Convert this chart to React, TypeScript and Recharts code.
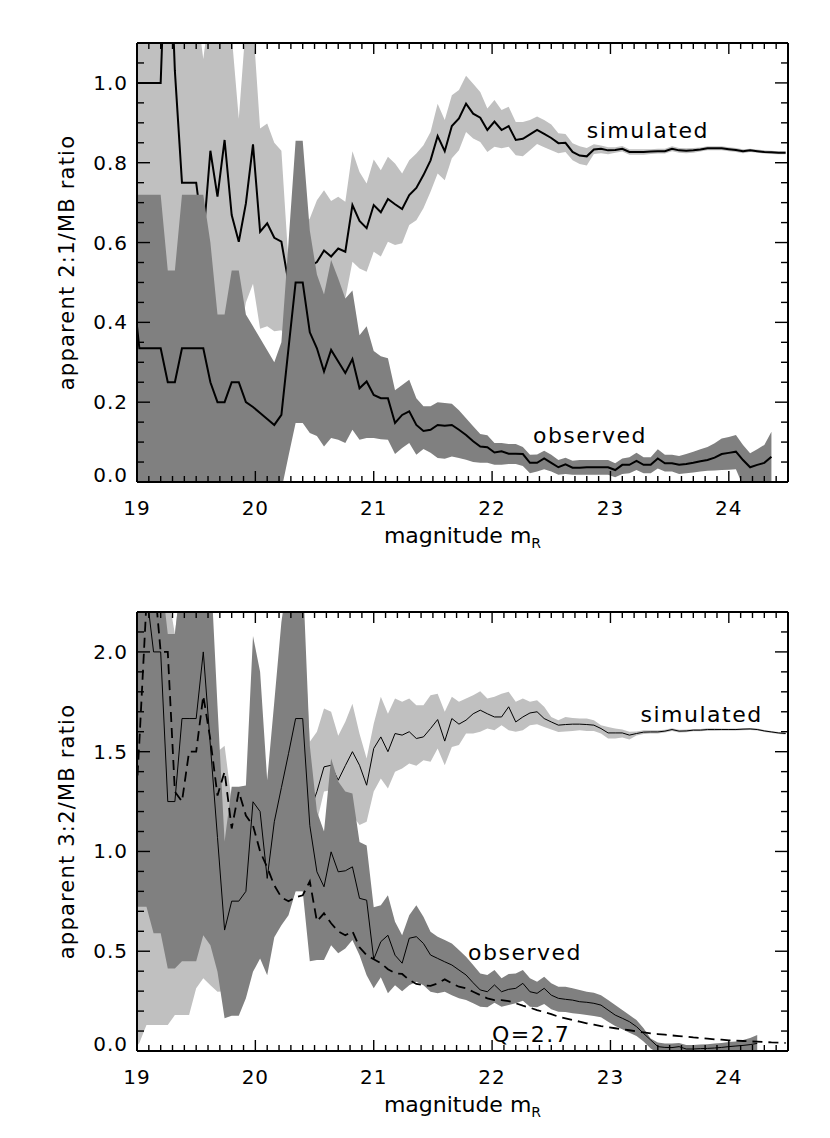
import React from 'react';
import { ComposedChart, Area, Line, XAxis, YAxis, ReferenceDot } from 'recharts';

// bin centres in magnitude (first bin sits just outside the axis, as in the original)
const mag = [
  18.96, 19.02, 19.08, 19.14, 19.2, 19.26, 19.32, 19.38, 19.44, 19.5,
  19.56, 19.62, 19.68, 19.74, 19.8, 19.86, 19.92, 19.98, 20.04, 20.1,
  20.16, 20.22, 20.28, 20.34, 20.4, 20.46, 20.52, 20.58, 20.64, 20.7,
  20.76, 20.82, 20.88, 20.94, 21.0, 21.06, 21.12, 21.18, 21.24, 21.3,
  21.36, 21.42, 21.48, 21.54, 21.6, 21.66, 21.72, 21.78, 21.84, 21.9,
  21.96, 22.02, 22.08, 22.14, 22.2, 22.26, 22.32, 22.38, 22.44, 22.5,
  22.56, 22.62, 22.68, 22.74, 22.8, 22.86, 22.92, 22.98, 23.04, 23.1,
  23.16, 23.22, 23.28, 23.34, 23.4, 23.46, 23.52, 23.58, 23.64, 23.7,
  23.76, 23.82, 23.88, 23.94, 24.0, 24.06, 24.12, 24.18, 24.24, 24.3,
  24.36, 24.42, 24.48,
];

// ---- 2:1 / MB ratio ----
const sim21 = [
  1.0, 1.0, 1.0, 1.0, 1.0, 1.5, 1.03, 0.75, 0.75, 0.75,
  0.61, 0.83, 0.715, 0.857, 0.669, 0.602, 0.698, 0.846, 0.627, 0.648,
  0.612, 0.602, 0.5, 0.52, 0.53, 0.54, 0.551, 0.58, 0.565, 0.585,
  0.577, 0.694, 0.654, 0.636, 0.694, 0.676, 0.709, 0.696, 0.684, 0.719,
  0.737, 0.769, 0.806, 0.867, 0.829, 0.892, 0.911, 0.948, 0.923, 0.913,
  0.882, 0.903, 0.882, 0.892, 0.857, 0.86, 0.871, 0.882, 0.872, 0.862,
  0.849, 0.85, 0.827, 0.818, 0.816, 0.833, 0.835, 0.831, 0.832, 0.835,
  0.827, 0.827, 0.827, 0.828, 0.829, 0.829, 0.835, 0.831, 0.83, 0.831,
  0.833, 0.836, 0.836, 0.836, 0.834, 0.832, 0.829, 0.831, 0.829, 0.827,
  0.826, 0.825, 0.825,
];
const sim21Hi = [
  1.2, 1.2, 1.2, 1.2, 1.2, 1.2, 1.2, 1.2, 1.2, 1.2,
  1.06, 1.2, 1.2, 1.2, 1.12, 0.91, 1.15, 1.15, 0.886, 0.898,
  0.85, 0.83, 0.55, 0.62, 0.64, 0.66, 0.706, 0.731, 0.704, 0.715,
  0.702, 0.829, 0.777, 0.748, 0.808, 0.781, 0.815, 0.798, 0.773, 0.806,
  0.823, 0.844, 0.877, 0.948, 0.907, 0.969, 0.982, 1.018, 0.998, 0.977,
  0.936, 0.957, 0.932, 0.94, 0.902, 0.902, 0.907, 0.916, 0.907, 0.896,
  0.874, 0.872, 0.849, 0.841, 0.837, 0.846, 0.843, 0.839, 0.839, 0.842,
  0.834, 0.834, 0.834, 0.834, 0.835, 0.835, 0.841, 0.837, 0.836, 0.837,
  0.838, 0.841, 0.841, 0.841, 0.839, 0.837, 0.834, 0.835, 0.833, 0.831,
  0.83, 0.829, 0.829,
];
const sim21Lo = [
  0.35, 0.35, 0.35, 0.35, 0.35, 0.35, 0.35, 0.35, 0.35, 0.35,
  0.35, 0.35, 0.35, 0.35, 0.35, 0.35, 0.45, 0.497, 0.384, 0.39,
  0.378, 0.38, 0.35, 0.35, 0.35, 0.38, 0.4, 0.42, 0.45, 0.45,
  0.46, 0.552, 0.535, 0.527, 0.577, 0.565, 0.602, 0.594, 0.598, 0.644,
  0.656, 0.686, 0.727, 0.773, 0.756, 0.811, 0.831, 0.877, 0.861, 0.852,
  0.827, 0.84, 0.836, 0.84, 0.819, 0.816, 0.831, 0.847, 0.839, 0.831,
  0.824, 0.827, 0.806, 0.797, 0.793, 0.822, 0.824, 0.821, 0.825, 0.828,
  0.82, 0.82, 0.82, 0.822, 0.823, 0.823, 0.829, 0.825, 0.824, 0.825,
  0.828, 0.831, 0.831, 0.831, 0.829, 0.827, 0.824, 0.827, 0.825, 0.823,
  0.822, 0.821, 0.821,
];
const obs21 = [
  0.5, 0.335, 0.335, 0.335, 0.335, 0.25, 0.25, 0.335, 0.335, 0.335,
  0.335, 0.25, 0.2, 0.2, 0.25, 0.25, 0.2, 0.188, 0.173, 0.158,
  0.143, 0.168, 0.335, 0.5, 0.5, 0.375, 0.335, 0.277, 0.331, 0.302,
  0.273, 0.308, 0.235, 0.252, 0.218, 0.21, 0.21, 0.148, 0.168, 0.177,
  0.143, 0.128, 0.131, 0.143, 0.141, 0.143, 0.131, 0.118, 0.102, 0.089,
  0.087, 0.074, 0.077, 0.071, 0.071, 0.07, 0.048, 0.048, 0.059, 0.048,
  0.037, 0.044, 0.036, 0.036, 0.037, 0.037, 0.037, 0.037, 0.03, 0.043,
  0.043, 0.053, 0.043, 0.043, 0.059, 0.047, 0.047, 0.043, 0.045, 0.048,
  0.052, 0.055, 0.061, 0.07, 0.073, 0.076, 0.055, 0.037, 0.043, 0.048,
  0.063, null, null,
];
const obs21Hi = [
  0.72, 0.72, 0.72, 0.72, 0.72, 0.53, 0.53, 0.72, 0.72, 0.72,
  0.72, 0.6, 0.42, 0.42, 0.53, 0.53, 0.42, 0.39, 0.36, 0.33,
  0.3, 0.35, 0.6, 0.855, 0.855, 0.63, 0.52, 0.47, 0.556, 0.51,
  0.46, 0.48, 0.368, 0.39, 0.328, 0.315, 0.31, 0.23, 0.243, 0.256,
  0.21, 0.19, 0.19, 0.2, 0.198, 0.196, 0.18, 0.16, 0.14, 0.12,
  0.117, 0.098, 0.098, 0.095, 0.095, 0.088, 0.068, 0.069, 0.078, 0.068,
  0.055, 0.061, 0.053, 0.055, 0.055, 0.055, 0.055, 0.055, 0.047, 0.059,
  0.062, 0.073, 0.062, 0.062, 0.082, 0.068, 0.068, 0.065, 0.07, 0.076,
  0.082, 0.088, 0.097, 0.109, 0.113, 0.118, 0.093, 0.072, 0.082, 0.093,
  0.126, null, null,
];
const obs21Lo = [
  -0.1, -0.1, -0.1, -0.1, -0.1, -0.1, -0.1, -0.1, -0.1, -0.1,
  -0.1, -0.1, -0.1, -0.1, -0.1, -0.1, -0.1, -0.1, -0.1, -0.1,
  -0.1, -0.02, 0.065, 0.148, 0.148, 0.123, 0.115, 0.089, 0.11, 0.106,
  0.098, 0.131, 0.106, 0.11, 0.11, 0.107, 0.106, 0.07, 0.085, 0.098,
  0.068, 0.083, 0.073, 0.06, 0.058, 0.064, 0.06, 0.056, 0.05, 0.048,
  0.048, 0.043, 0.043, 0.045, 0.045, 0.04, 0.022, 0.026, 0.032, 0.026,
  0.018, 0.02, 0.018, 0.018, 0.018, 0.018, 0.018, 0.018, 0.012, 0.02,
  0.022, 0.03, 0.022, 0.022, 0.034, 0.026, 0.026, 0.02, 0.022, 0.024,
  0.026, 0.028, 0.029, 0.03, 0.031, 0.032, -0.01, -0.02, -0.02, -0.02,
  -0.02, null, null,
];

// ---- 3:2 / MB ratio ----
const sim32 = [
  null, null, null, null, null, null, null, null, null, null,
  null, null, null, null, null, null, null, null, null, null,
  null, null, null, null, null, 1.2, 1.3, 1.424, 1.432, 1.357,
  1.43, 1.5, 1.432, 1.332, 1.516, 1.574, 1.5, 1.591, 1.583, 1.6,
  1.566, 1.574, 1.616, 1.661, 1.553, 1.666, 1.638, 1.658, 1.69, 1.708,
  1.69, 1.674, 1.674, 1.725, 1.649, 1.674, 1.694, 1.7, 1.666, 1.649,
  1.633, 1.636, 1.638, 1.638, 1.636, 1.633, 1.616, 1.594, 1.594, 1.594,
  1.583, 1.591, 1.598, 1.599, 1.599, 1.603, 1.611, 1.603, 1.604, 1.608,
  1.608, 1.611, 1.611, 1.611, 1.611, 1.611, 1.613, 1.614, 1.611, 1.604,
  1.599, 1.594, 1.591,
];
const sim32Hi = [
  2.4, 2.4, 2.4, 2.4, 2.4, 2.3, 2.09, 2.4, 2.4, 2.4,
  2.4, 2.4, 1.5, 1.53, 1.25, 1.25, 1.25, 1.9, 1.8, 1.3,
  1.7, 2.0, 2.2, 2.2, 2.2, 1.55, 1.6, 1.716, 1.7, 1.58,
  1.65, 1.74, 1.59, 1.466, 1.64, 1.775, 1.69, 1.766, 1.75, 1.766,
  1.733, 1.733, 1.783, 1.79, 1.7, 1.775, 1.75, 1.766, 1.783, 1.803,
  1.766, 1.775, 1.79, 1.8, 1.75, 1.766, 1.75, 1.758, 1.725, 1.674,
  1.658, 1.674, 1.669, 1.666, 1.666, 1.658, 1.633, 1.624, 1.616, 1.611,
  1.6, 1.601, 1.607, 1.607, 1.607, 1.61, 1.618, 1.61, 1.611, 1.614,
  1.614, 1.617, 1.617, 1.616, 1.616, 1.616, 1.618, 1.619, 1.616, 1.609,
  1.604, 1.599, 1.596,
];
const sim32Lo = [
  0.0, 0.04, 0.13, 0.13, 0.13, 0.13, 0.18, 0.18, 0.18, 0.314,
  0.364, 0.33, 0.297, 0.3, 0.5, 0.5, 0.5, 0.5, 0.5, 0.6,
  0.6, 0.65, 0.7, 0.8, 0.8, 0.9, 1.15, 1.3, 1.307, 1.3,
  1.232, 1.182, 1.132, 1.149, 1.3, 1.366, 1.316, 1.4, 1.416, 1.441,
  1.43, 1.457, 1.449, 1.516, 1.432, 1.524, 1.533, 1.591, 1.591, 1.6,
  1.616, 1.608, 1.633, 1.608, 1.6, 1.608, 1.633, 1.638, 1.624, 1.611,
  1.599, 1.601, 1.604, 1.608, 1.604, 1.604, 1.591, 1.566, 1.566, 1.571,
  1.561, 1.581, 1.589, 1.591, 1.591, 1.596, 1.604, 1.596, 1.597, 1.602,
  1.602, 1.605, 1.605, 1.606, 1.606, 1.606, 1.608, 1.609, 1.606, 1.599,
  1.594, 1.589, 1.586,
];
const obs32 = [
  2.6, 2.5, 2.3, 2.0, 2.0, 1.25, 1.25, 1.666, 1.666, 1.666,
  2.0, 1.53, 1.07, 0.606, 0.751, 0.751, 0.8, 1.249, 1.2, 0.865,
  1.149, 1.32, 1.49, 1.666, 1.666, 1.13, 0.898, 0.823, 0.998, 0.898,
  0.903, 0.923, 0.765, 0.756, 0.46, 0.548, 0.58, 0.48, 0.44, 0.565,
  0.573, 0.539, 0.481, 0.464, 0.447, 0.431, 0.406, 0.381, 0.342, 0.306,
  0.297, 0.331, 0.297, 0.309, 0.314, 0.339, 0.297, 0.289, 0.314, 0.28,
  0.264, 0.259, 0.255, 0.247, 0.244, 0.239, 0.23, 0.205, 0.18, 0.164,
  0.147, 0.122, 0.088, 0.055, 0.022, 0.018, 0.017, 0.022, 0.01, 0.01,
  0.012, 0.013, 0.015, 0.018, 0.022, 0.025, 0.028, 0.032, 0.038, null,
  null, null, null,
];
const obs32Hi = [
  2.4, 2.4, 2.4, 2.4, 2.4, 2.09, 2.09, 2.4, 2.4, 2.4,
  2.4, 2.45, 1.73, 1.05, 1.324, 1.324, 1.33, 2.08, 1.9, 1.357,
  1.75, 2.15, 2.4, 2.4, 2.4, 1.53, 1.2, 1.1, 1.466, 1.35,
  1.3, 1.29, 1.048, 1.03, 0.72, 0.73, 0.78, 0.648, 0.58, 0.68,
  0.73, 0.673, 0.598, 0.573, 0.556, 0.539, 0.506, 0.472, 0.431, 0.389,
  0.381, 0.406, 0.364, 0.386, 0.389, 0.406, 0.364, 0.347, 0.372, 0.339,
  0.322, 0.322, 0.314, 0.306, 0.297, 0.292, 0.28, 0.255, 0.23, 0.205,
  0.18, 0.155, 0.114, 0.063, 0.042, 0.038, 0.037, 0.04, 0.03, 0.03,
  0.032, 0.034, 0.037, 0.04, 0.045, 0.048, 0.055, 0.065, 0.08, null,
  null, null, null,
];
const obs32Lo = [
  0.723, 0.723, 0.723, 0.59, 0.59, 0.414, 0.414, 0.45, 0.45, 0.45,
  0.58, 0.53, 0.397, 0.164, 0.177, 0.177, 0.264, 0.397, 0.464, 0.38,
  0.57, 0.63, 0.68, 0.8, 0.8, 0.45, 0.456, 0.456, 0.53, 0.49,
  0.514, 0.556, 0.48, 0.38, 0.314, 0.37, 0.29, 0.33, 0.3, 0.33,
  0.347, 0.33, 0.297, 0.289, 0.297, 0.28, 0.264, 0.255, 0.239, 0.222,
  0.219, 0.242, 0.222, 0.23, 0.239, 0.252, 0.222, 0.219, 0.235, 0.209,
  0.197, 0.195, 0.189, 0.185, 0.18, 0.175, 0.169, 0.147, 0.125, 0.109,
  0.092, 0.075, 0.047, 0.013, -0.01, -0.01, -0.01, -0.01, -0.01, -0.01,
  -0.01, -0.01, -0.01, -0.01, -0.01, -0.01, -0.01, -0.01, -0.01, null,
  null, null, null,
];
// dashed model curve, Q = 2.7
const q27 = [
  0.9, 1.55, 2.25, 2.4, 2.0, 2.0, 1.3, 1.25, 1.5, 1.5,
  1.78, 1.56, 1.28, 1.4, 1.115, 1.3, 1.18, 1.13, 1.0, 0.92,
  0.83, 0.77, 0.75, 0.77, 0.78, 0.85, 0.65, 0.69, 0.64, 0.6,
  0.58, 0.6, 0.52, 0.48, 0.46, 0.44, 0.41, 0.39, 0.386, 0.356,
  0.336, 0.33, 0.326, 0.339, 0.359, 0.339, 0.322, 0.314, 0.297, 0.28,
  0.264, 0.255, 0.255, 0.25, 0.239, 0.227, 0.217, 0.205, 0.195, 0.185,
  0.172, 0.164, 0.155, 0.147, 0.139, 0.132, 0.125, 0.119, 0.114, 0.109,
  0.104, 0.098, 0.093, 0.088, 0.085, 0.082, 0.078, 0.075, 0.072, 0.068,
  0.065, 0.062, 0.058, 0.057, 0.053, 0.052, 0.05, 0.048, 0.047, 0.045,
  0.043, 0.042, 0.04,
];

const magLabels = [19, 20, 21, 22, 23, 24];

const FONT = '"DejaVu Sans", "Liberation Sans", sans-serif';
const WEIGHT = 400;
const LIGHT = '#c0c0c0';
const DARK = '#808080';

function steps(from: number, to: number, step: number) {
  const out: number[] = [];
  for (let k = 0; from + k * step <= to + 1e-9; k++) out.push(Math.round((from + k * step) * 1000) / 1000);
  return out;
}
const isMultiple = (v: number, step: number) => Math.abs(v / step - Math.round(v / step)) < 1e-6;

const magTicks = steps(19, 24.4, 0.1);

function buildRows(sim: any[], simLo: any[], simHi: any[], obs: any[], obsLo: any[], obsHi: any[], model?: any[]) {
  return mag.map((m, i) => ({
    m,
    sim: sim[i],
    simBand: simLo[i] == null ? null : [simLo[i], simHi[i]],
    obs: obs[i],
    obsBand: obsLo[i] == null ? null : [obsLo[i], obsHi[i]],
    model: model ? model[i] : null,
  }));
}

function MagTick(props: any) {
  const { x, y, payload, side } = props;
  const v = payload.value;
  const major = isMultiple(v, 1);
  const len = major ? 11 : 6;
  const dir = side === 'bottom' ? -1 : 1;
  return (
    <g>
      <line x1={x} x2={x} y1={y} y2={y + dir * len} stroke="#000" strokeWidth={1.4} />
      {side === 'bottom' && magLabels.includes(Math.round(v)) && major ? (
        <text x={x} y={y + 33} textAnchor="middle" fontFamily={FONT} fontWeight={WEIGHT} fontSize={20}
          letterSpacing={1} fill="#000">
          {Math.round(v)}
        </text>
      ) : null}
    </g>
  );
}

function RatioTick(props: any) {
  const { x, y, payload, side, majorStep } = props;
  const v = payload.value;
  const major = isMultiple(v, majorStep);
  const len = major ? 13 : 7;
  const dir = side === 'left' ? 1 : -1;
  // the bottom label sits on the axis instead of centred on its tick
  const dy = v === 0 ? 0 : 7;
  return (
    <g>
      <line x1={x} x2={x + dir * len} y1={y} y2={y} stroke="#000" strokeWidth={1.4} />
      {side === 'left' && major ? (
        <text x={x - 9} y={y + dy} textAnchor="end" fontFamily={FONT} fontWeight={WEIGHT} fontSize={20}
          letterSpacing={1} fill="#000">
          {v.toFixed(1)}
        </text>
      ) : null}
    </g>
  );
}

function MagTitle(props: any) {
  const vb = props.viewBox || props;
  return (
    <text x={vb.x + vb.width / 2} y={vb.y + 61} textAnchor="middle" fontFamily={FONT} fontWeight={WEIGHT}
      fontSize={22} fill="#000">
      magnitude m
      <tspan fontSize={14} dy={5}>R</tspan>
    </text>
  );
}

function RatioTitle(props: any) {
  const vb = props.viewBox || props;
  const cx = vb.x + 74;
  const cy = vb.y + vb.height / 2;
  return (
    <text x={cx} y={cy} transform={`rotate(-90, ${cx}, ${cy})`} textAnchor="middle" fontFamily={FONT}
      fontWeight={WEIGHT} fontSize={21} letterSpacing={1.2} fill="#000">
      {props.text}
    </text>
  );
}

function Note(props: any) {
  const vb = props.viewBox || props;
  return (
    <text x={vb.x} y={vb.y} fontFamily={FONT} fontWeight={WEIGHT} fontSize={22} letterSpacing={1.5} fill="#000">
      {props.text}
    </text>
  );
}

type Anno = { text: string; m: number; v: number };

function Panel(props: {
  rows: any[]; height: number; top: number; bottomAxis: number; yMax: number; yMinorStep: number;
  majorStep: number; yTitle: string; notes: Anno[]; lineWidth: number; showModel?: boolean;
}) {
  const { rows, height, top, bottomAxis, yMax, yMinorStep, majorStep, yTitle, notes, lineWidth, showModel } = props;
  const yTicks = steps(0, yMax - yMinorStep / 2, yMinorStep);
  const axisLine = { stroke: '#000', strokeWidth: 2 };
  return (
    <ComposedChart width={830} height={height} data={rows} margin={{ top, right: 41, bottom: 0, left: 0 }}>
      <XAxis xAxisId="b" dataKey="m" type="number" domain={[19, 24.5]} allowDataOverflow ticks={magTicks}
        interval={0} tickSize={0} tickMargin={0} tickLine={false} axisLine={axisLine} height={bottomAxis}
        tick={(p: any) => <MagTick {...p} side="bottom" />} label={{ content: (p: any) => <MagTitle {...p} /> }} />
      <XAxis xAxisId="t" orientation="top" dataKey="m" type="number" domain={[19, 24.5]} allowDataOverflow
        ticks={magTicks} interval={0} tickSize={0} tickMargin={0} tickLine={false} axisLine={axisLine} height={1}
        tick={(p: any) => <MagTick {...p} side="top" />} />
      <YAxis yAxisId="l" type="number" domain={[0, yMax]} allowDataOverflow ticks={yTicks} interval={0}
        tickSize={0} tickMargin={0} tickLine={false} axisLine={axisLine} width={137}
        tick={(p: any) => <RatioTick {...p} side="left" majorStep={majorStep} />}
        label={{ content: (p: any) => <RatioTitle {...p} text={yTitle} /> }} />
      <YAxis yAxisId="r" orientation="right" type="number" domain={[0, yMax]} allowDataOverflow ticks={yTicks}
        interval={0} tickSize={0} tickMargin={0} tickLine={false} axisLine={axisLine} width={1}
        tick={(p: any) => <RatioTick {...p} side="right" majorStep={majorStep} />} />

      {/* drawing order: simulated band, simulated line, observed band on top, then observed line */}
      <Area xAxisId="b" yAxisId="l" type="linear" dataKey="simBand" fill={LIGHT} fillOpacity={1} stroke="none"
        dot={false} activeDot={false} isAnimationActive={false} zIndex={100} />
      <Line xAxisId="b" yAxisId="l" type="linear" dataKey="sim" stroke="#000" strokeWidth={lineWidth}
        dot={false} activeDot={false} isAnimationActive={false} zIndex={110} />
      <Area xAxisId="b" yAxisId="l" type="linear" dataKey="obsBand" fill={DARK} fillOpacity={1} stroke="none"
        dot={false} activeDot={false} isAnimationActive={false} zIndex={120} />
      <Line xAxisId="b" yAxisId="l" type="linear" dataKey="obs" stroke="#000" strokeWidth={lineWidth}
        dot={false} activeDot={false} isAnimationActive={false} zIndex={130} />
      {showModel ? (
        <Line xAxisId="b" yAxisId="l" type="linear" dataKey="model" stroke="#000" strokeWidth={1.8}
          strokeDasharray="10 6" dot={false} activeDot={false} isAnimationActive={false} zIndex={140} />
      ) : null}

      {notes.map((n) => (
        <ReferenceDot key={n.text} xAxisId="b" yAxisId="l" x={n.m} y={n.v} r={0} fill="none" stroke="none"
          label={{ content: (p: any) => <Note {...p} text={n.text} /> }} />
      ))}
    </ComposedChart>
  );
}

const notes21: Anno[] = [
  { text: 'simulated', m: 22.8, v: 0.861 },
  { text: 'observed', m: 22.345, v: 0.098 },
];
const notes32: Anno[] = [
  { text: 'simulated', m: 23.254, v: 1.649 },
  { text: 'observed', m: 21.797, v: 0.456 },
  { text: 'Q=2.7', m: 21.999, v: 0.047 },
];

export default function App() {
  const rows21 = buildRows(sim21, sim21Lo, sim21Hi, obs21, obs21Lo, obs21Hi);
  const rows32 = buildRows(sim32, sim32Lo, sim32Hi, obs32, obs32Lo, obs32Hi, q27);
  return (
    <div style={{ position: 'absolute', left: 0, top: 0, width: 830, height: 1138, background: '#fff' }}>
      <div style={{ position: 'absolute', left: 0, top: 0 }}>
        <Panel rows={rows21} height={570} top={42} bottomAxis={88} yMax={1.1} yMinorStep={0.05} majorStep={0.2}
          yTitle="apparent 2:1/MB ratio" notes={notes21} lineWidth={2} />
      </div>
      <div style={{ position: 'absolute', left: 0, top: 570 }}>
        <Panel rows={rows32} height={568} top={41} bottomAxis={87} yMax={2.2} yMinorStep={0.1} majorStep={0.5}
          yTitle="apparent 3:2/MB ratio" notes={notes32} lineWidth={1} showModel />
      </div>
    </div>
  );
}
